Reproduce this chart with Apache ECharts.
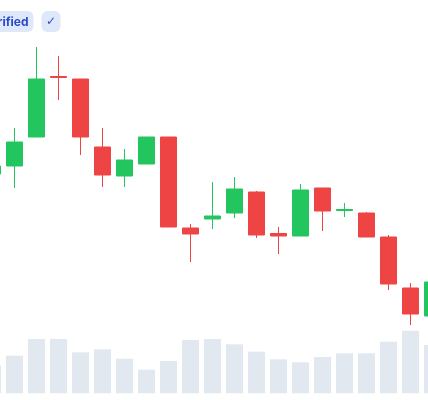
<!DOCTYPE html>
<html>
<head>
<meta charset="utf-8">
<script src="https://cdn.jsdelivr.net/npm/echarts@6/dist/echarts.min.js"></script>
<style>
html,body{margin:0;padding:0;background:#ffffff;}
#chart{width:428px;height:400px;}
</style>
</head>
<body>
<div id="chart"></div>
<script>
// Data
var categories = ['D1','D2','D3','D4','D5','D6','D7','D8','D9','D10','D11','D12','D13','D14','D15','D16','D17','D18','D19','D20','D21'];
var opens  = [113, 117, 131.5, 161.75, 160.5, 126.5, 112, 118, 131.5, 86, 90.5, 93.5, 104, 83.25, 82, 106, 94.75, 93.5, 81.5, 56, 42];
var closes = [117, 129, 160.5, 161.25, 131.5, 112.5, 120, 131.5, 86.5, 83, 92, 105.5, 82.5, 82, 105, 94.5, 95.25, 81.5, 58, 43, 59];
var lows   = [113, 106, 131.5, 150, 122.5, 106.5, 106.5, 118, 86.5, 69, 85.5, 91, 81, 73, 82, 84.5, 91.5, 81.5, 55, 37.5, 41];
var highs  = [117, 136, 176.5, 172, 160.5, 136, 125.5, 131.5, 131.5, 88, 109, 111.5, 104.5, 86.5, 108, 106, 98.5, 94, 82.5, 58.5, 60];
var volumes = [2760, 3760, 5430, 5430, 4100, 4400, 3460, 2360, 3230, 5330, 5430, 4900, 4160, 3400, 3100, 3630, 4000, 4000, 5160, 6260, 4830];
var badgeLabels = ['Verified', '✓'];

var ohlc = categories.map(function (c, i) { return [i, opens[i], closes[i], lows[i], highs[i]]; });
var vol = categories.map(function (c, i) { return [i, volumes[i]]; });

// visible window of the day index axis (the chart is cropped at both sides)
var xMin = 0.3409, xMax = 19.7955;

var chart = echarts.init(document.getElementById('chart'), null, {renderer: 'canvas'});
chart.setOption({
  backgroundColor: '#ffffff',
  animation: false,
  grid: [
    {left: 0, right: 0, top: 0, bottom: 0},
    {left: 0, right: 0, top: 313.3, bottom: 6.7}
  ],
  xAxis: [
    {type: 'value', gridIndex: 0, min: xMin, max: xMax, show: false, splitLine: {show: false}},
    {type: 'value', gridIndex: 1, min: xMin, max: xMax, show: false, splitLine: {show: false}}
  ],
  yAxis: [
    {type: 'value', gridIndex: 0, min: 0, max: 200, show: false, splitLine: {show: false}},
    {type: 'value', gridIndex: 1, min: 0, max: 8000, show: false, splitLine: {show: false}}
  ],
  series: [
    {
      type: 'bar', xAxisIndex: 1, yAxisIndex: 1, data: vol, barWidth: 17,
      itemStyle: {color: '#e2e8f0'}, z: 1, clip: false
    },
    {
      type: 'candlestick', xAxisIndex: 0, yAxisIndex: 0, data: ohlc, barWidth: 17,
      encode: {x: 0, y: [1, 2, 3, 4]}, clip: false,
      itemStyle: {
        color: '#22c55e', color0: '#ef4444',
        borderColor: '#22c55e', borderColor0: '#ef4444', borderWidth: 1
      },
      z: 3
    }
  ],
  graphic: [
    {
      type: 'rect', left: -60, top: 11, z: 10,
      shape: {width: 93.5, height: 21, r: 6},
      style: {fill: '#dfe7fb'}
    },
    {
      type: 'text', z: 11,
      style: {
        text: badgeLabels[0], x: 28.5, y: 22, align: 'right', verticalAlign: 'middle',
        fill: '#2b4bc6', font: 'bold 12px "Inter", "Noto Sans", sans-serif'
      }
    },
    {
      type: 'rect', left: 41.5, top: 11, z: 10,
      shape: {width: 19, height: 21, r: 6},
      style: {fill: '#dfe7fb'}
    },
    {
      type: 'text', z: 11,
      style: {
        text: badgeLabels[1], x: 51, y: 22, align: 'center', verticalAlign: 'middle',
        fill: '#2b4bc6', font: '12px "DejaVu Sans", sans-serif'
      }
    }
  ]
});
</script>
</body>
</html>
